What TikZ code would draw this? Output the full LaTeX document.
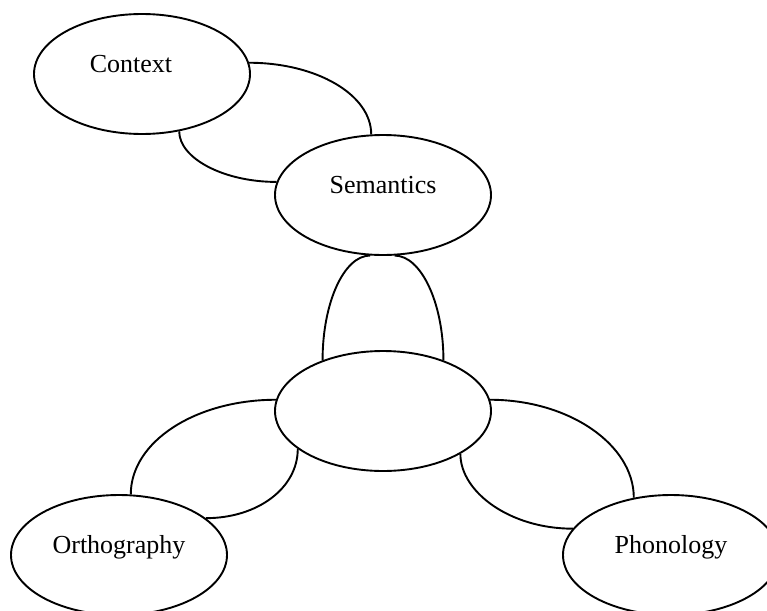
\documentclass[tikz,border=0pt]{standalone}
\usepackage{fontspec}
\setmainfont{Liberation Serif}
\usepackage{tikz}
\usetikzlibrary{shapes.geometric}

\tikzset{
	blob/.style={ellipse, draw, line width=1.9pt, minimum width=216pt, minimum height=120pt,
		inner sep=0pt, text height=18pt, text depth=21pt, font=\fontsize{26}{30}\selectfont},
	link/.style={line width=1.9pt}
}

\begin{document}
\begin{tikzpicture}[x=1pt, y=1pt]
	\useasboundingbox (0,0) rectangle (767,-610);

	\draw (142,-74) node[blob] (ctx) {Context\hspace*{22pt}};
	\draw (383,-195) node[blob] (sem) {Semantics};
	\draw (383,-411) node[blob] (hub) {};
	\draw (119,-555) node[blob] (orth) {Orthography};
	\draw (671,-555) node[blob] (phon) {Phonology};

	% context - semantics
	\draw[link] (ctx.6) .. controls +(67,0) and +(0,40) .. (sem.101);
	\draw[link] (ctx.-57) .. controls +(0,-27) and +(-53,0) .. (sem.173);

	% semantics - hub
	\draw[link] (hub.140) .. controls +(0,58) and +(-26,0) .. (sem.-102);
	\draw[link] (hub.40) .. controls +(0,58) and +(26,0) .. (sem.-79);

	% hub - orthography
	\draw[link] (hub.174) .. controls +(-80,0) and +(0,53) .. (orth.79);
	\draw[link] (hub.204) .. controls +(0,-39) and +(52,0) .. (orth.23);

	% hub - phonology
	\draw[link] (hub.6) .. controls +(79,0) and +(0,53) .. (phon.123);
	\draw[link] (hub.-29) .. controls +(0,-38) and +(-63,0) .. (phon.165);

\end{tikzpicture}
\end{document}
